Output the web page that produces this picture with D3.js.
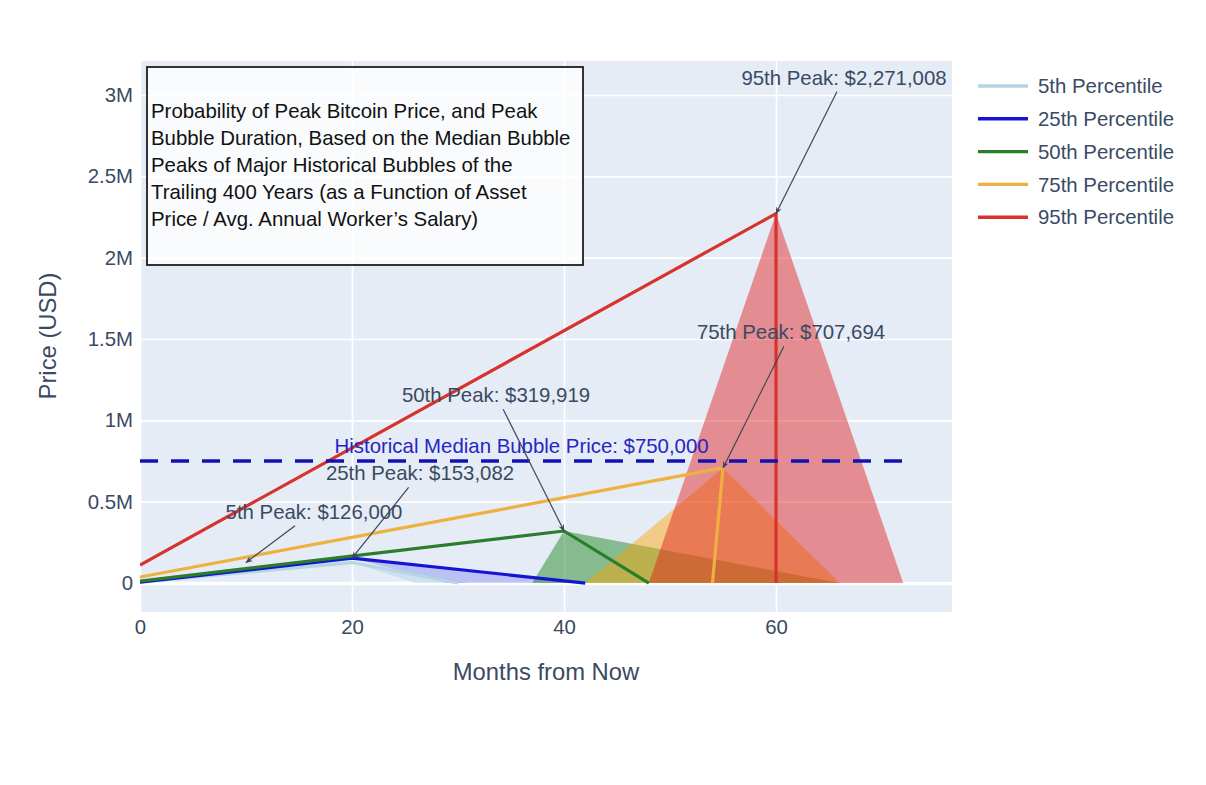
<!DOCTYPE html>
<html>
<head>
<meta charset="utf-8">
<script src="https://cdn.jsdelivr.net/npm/d3@7"></script>
<style>
  body { margin: 0; background: #fff; }
  text { font-family: "Liberation Sans", Arial, sans-serif; }
</style>
</head>
<body>
<svg id="chart" width="1206" height="785"></svg>
<script>
// chart data
var seriesNames = ["5th Percentile", "25th Percentile", "50th Percentile", "75th Percentile", "95th Percentile"];
// path of each percentile: start -> peak -> end of bubble
var lineMonths = [[0, 20, 30], [0, 20, 42], [0, 40, 48], [0, 55, 54], [0, 60, 60]];
var linePrices = [[5000, 126000, 0], [5000, 153082, 0], [12000, 319919, 0], [37000, 707694, 0], [111000, 2271008, 0]];
// shaded triangles (peak, earliest end, latest end)
var fillMonths = [[20, 26, 31], [20, 29, 42], [40, 37, 66], [55, 42, 66], [60, 48, 72]];
var fillPrices = [[126000, 0, 0], [153082, 0, 0], [319919, 0, 0], [707694, 0, 0], [2271008, 0, 0]];
// peak annotations
var peakLabels = ["5th Peak: $126,000", "25th Peak: $153,082", "50th Peak: $319,919", "75th Peak: $707,694", "95th Peak: $2,271,008"];
var peakMonths = [10, 20, 40, 55, 60];
var peakPrices = [126000, 153082, 319919, 707694, 2271008];
// historical median
var medianPrice = 750000;
var medianMonths = [0, 72];
var medianLabel = "Historical Median Bubble Price: $750,000";
// axes
var xTicks = [0, 20, 40, 60];
var yTicks = [0, 500000, 1000000, 1500000, 2000000, 2500000, 3000000];
var yTickLabels = ["0", "0.5M", "1M", "1.5M", "2M", "2.5M", "3M"];
var boxLines = ["Probability of Peak Bitcoin Price, and Peak",
                "Bubble Duration, Based on the Median Bubble",
                "Peaks of Major Historical Bubbles of the",
                "Trailing 400 Years (as a Function of Asset",
                "Price / Avg. Annual Worker\u2019s Salary)"];

// styles
var lineColors = ["#b6d5e2", "#1414d2", "#2a7d2a", "#efb042", "#d8322c"];
var fillColors = ["rgba(173,216,230,0.5)", "rgba(40,40,240,0.22)", "rgba(0,120,0,0.42)",
                  "rgba(255,165,0,0.45)", "rgba(225,25,25,0.45)"];
var arrowOffsets = [[68, -51], [68, -85], [-68, -136], [68, -136], [68, -136]];
var fontColor = "#3a4a63";
var fs = 20.4;

var svg = d3.select("#chart");
var plot = {left: 140, right: 952, top: 61, bottom: 612};

var x = d3.scaleLinear().domain([0, 76.6]).range([plot.left, plot.right]);
var y = d3.scaleLinear().domain([-178000, 3209000]).range([plot.bottom, plot.top]);

// background + grid
svg.append("rect")
    .attr("x", plot.left).attr("y", plot.top)
    .attr("width", plot.right - plot.left).attr("height", plot.bottom - plot.top)
    .attr("fill", "#e5ecf6");

var defs = svg.append("defs");
defs.append("clipPath").attr("id", "clipBox")
    .append("rect")
    .attr("x", plot.left).attr("y", plot.top)
    .attr("width", plot.right - plot.left).attr("height", plot.bottom - plot.top);
defs.append("marker")
    .attr("id", "arrow")
    .attr("viewBox", "0 0 10 10")
    .attr("refX", 9).attr("refY", 5)
    .attr("markerWidth", 6).attr("markerHeight", 6)
    .attr("markerUnits", "strokeWidth")
    .attr("orient", "auto")
    .append("path")
    .attr("d", "M0,1 L10,5 L0,9 L3,5 Z")
    .attr("fill", "#3d4654");

var xAxis = d3.axisBottom(x).tickValues(xTicks).tickSize(-(plot.bottom - plot.top)).tickFormat(d3.format("d"));
var yAxis = d3.axisLeft(y).tickValues(yTicks).tickSize(-(plot.right - plot.left))
    .tickFormat(function(d, i) { return yTickLabels[i]; });

var gx = svg.append("g").attr("transform", "translate(0," + plot.bottom + ")").call(xAxis);
var gy = svg.append("g").attr("transform", "translate(" + plot.left + ",0)").call(yAxis);
[gx, gy].forEach(function(g) {
    g.select(".domain").remove();
    g.selectAll(".tick line").attr("stroke", "#fff").attr("stroke-width", 1.7);
    g.selectAll(".tick text").attr("fill", fontColor).attr("font-size", fs);
});
gx.selectAll(".tick text").attr("dy", "0").attr("y", 22);
gy.selectAll(".tick text").attr("x", -7);
gy.selectAll(".tick line").filter(function(d) { return d === 0; }).attr("stroke-width", 3.4);

// axis titles
svg.append("text")
    .attr("x", (plot.left + plot.right) / 2).attr("y", 680)
    .attr("text-anchor", "middle").attr("font-size", 23.8).attr("fill", fontColor)
    .text("Months from Now");
svg.append("text")
    .attr("transform", "translate(56,336) rotate(-90)")
    .attr("text-anchor", "middle").attr("font-size", 23.8).attr("fill", fontColor)
    .text("Price (USD)");

var layer = svg.append("g").attr("clip-path", "url(#clipBox)");

// shaded triangles first
fillMonths.forEach(function(ms, i) {
    var pts = ms.map(function(m, j) { return [x(m), y(fillPrices[i][j])]; });
    layer.append("path")
        .attr("d", d3.line()(pts) + "Z")
        .attr("fill", fillColors[i])
        .attr("stroke", "none");
});

// percentile paths
lineMonths.forEach(function(ms, i) {
    var pts = ms.map(function(m, j) { return [x(m), y(linePrices[i][j])]; });
    layer.append("path")
        .attr("d", d3.line()(pts))
        .attr("fill", "none")
        .attr("stroke", lineColors[i])
        .attr("stroke-width", 3.2)
        .attr("stroke-linejoin", "round");
});

// median dashed line
layer.append("line")
    .attr("x1", x(medianMonths[0])).attr("x2", x(medianMonths[1]))
    .attr("y1", y(medianPrice)).attr("y2", y(medianPrice))
    .attr("stroke", "#1212b4").attr("stroke-width", 3.4)
    .attr("stroke-dasharray", "18,13");

svg.append("text")
    .attr("x", x((medianMonths[0] + medianMonths[1]) / 2))
    .attr("y", y(medianPrice) - 15)
    .attr("dy", "0.35em")
    .attr("text-anchor", "middle").attr("font-size", fs).attr("fill", "#2626c4")
    .text(medianLabel);

// peak annotations with arrows
peakLabels.forEach(function(lab, i) {
    var px = x(peakMonths[i]), py = y(peakPrices[i]);
    var cx = px + arrowOffsets[i][0], cy = py + arrowOffsets[i][1];
    var t = svg.append("text")
        .attr("x", cx).attr("y", cy).attr("dy", "0.35em")
        .attr("text-anchor", "middle").attr("font-size", fs).attr("fill", fontColor)
        .text(lab);
    var hw = t.node().getComputedTextLength() / 2 + 2, hh = fs * 0.6 + 2;
    var dx = px - cx, dy = py - cy;
    var s = Math.min(Math.abs(dx) > 0 ? hw / Math.abs(dx) : 1e9, Math.abs(dy) > 0 ? hh / Math.abs(dy) : 1e9);
    svg.append("line")
        .attr("x1", cx + dx * s).attr("y1", cy + dy * s)
        .attr("x2", px).attr("y2", py)
        .attr("stroke", "#3d4654").attr("stroke-width", 1.2)
        .attr("marker-end", "url(#arrow)");
});

// title box
svg.append("rect")
    .attr("x", 147).attr("y", 67).attr("width", 436).attr("height", 198)
    .attr("fill", "rgba(255,255,255,0.78)")
    .attr("stroke", "#111").attr("stroke-width", 1.7);
boxLines.forEach(function(l, i) {
    svg.append("text")
        .attr("x", 151).attr("y", 111 + i * 27).attr("dy", "0.35em")
        .attr("font-size", fs).attr("fill", "#111")
        .text(l);
});

// legend
var legend = svg.append("g").attr("transform", "translate(978,86)");
seriesNames.forEach(function(n, i) {
    var g = legend.append("g").attr("transform", "translate(0," + (i * 32.8) + ")");
    g.append("line").attr("x1", 0).attr("x2", 50).attr("y1", 0).attr("y2", 0)
        .attr("stroke", lineColors[i]).attr("stroke-width", 3.4);
    g.append("text").attr("x", 60).attr("y", 0).attr("dy", "0.35em")
        .attr("font-size", fs).attr("fill", fontColor).text(n);
});
</script>
</body>
</html>
